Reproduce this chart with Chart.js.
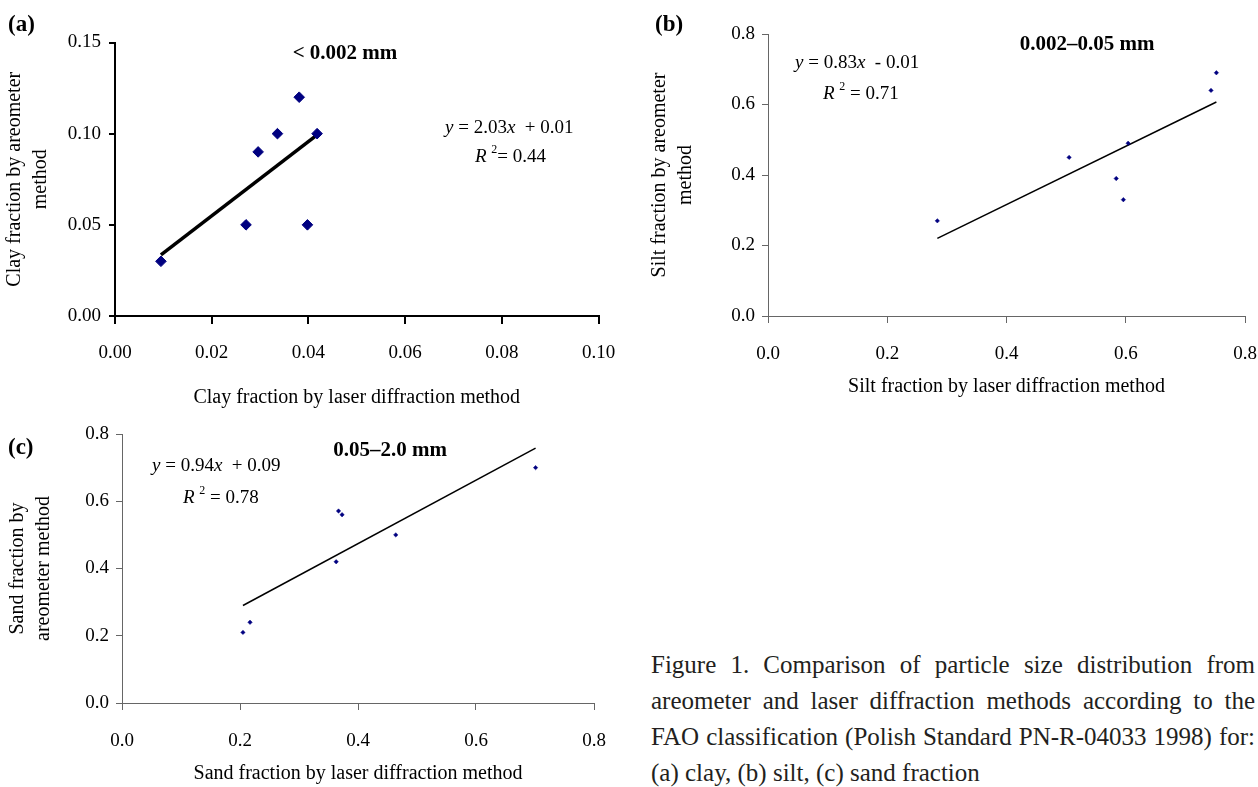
<!DOCTYPE html>
<html><head><meta charset="utf-8">
<script src="https://cdn.jsdelivr.net/npm/chart.js@4.4.0/dist/chart.umd.min.js"></script>
<style>
html,body{margin:0;padding:0;background:#fff;width:1258px;height:787px;overflow:hidden;position:relative;}
canvas{position:absolute;}
#ca{left:0;top:0;} #cb{left:640px;top:0;} #cc{left:0;top:420px;}
#cap{position:absolute;left:651px;top:647px;width:604px;font-family:"Liberation Serif","Times New Roman",serif;font-size:25px;line-height:36px;color:#231f20;}
#cap .j{text-align:justify;text-align-last:justify;white-space:nowrap;}
#cap .l{text-align:left;white-space:nowrap;}
</style></head><body>
<canvas id="ca" width="620" height="420"></canvas>
<canvas id="cb" width="618" height="400"></canvas>
<canvas id="cc" width="620" height="367"></canvas>
<div id="cap">
<div class="j">Figure 1. Comparison of particle size distribution from</div>
<div class="j">areometer and laser diffraction methods according to the</div>
<div class="j">FAO classification (Polish Standard PN-R-04033 1998) for:</div>
<div class="l">(a) clay, (b) silt, (c) sand fraction</div>
</div>
<script>
// ---- data (a) clay ----
const clayLaser = [0.0095, 0.0271, 0.0296, 0.0336, 0.0381, 0.0398, 0.0418];
const clayAreo  = [0.03, 0.05, 0.09, 0.10, 0.12, 0.05, 0.10];
const clayTrendX = [0.0095, 0.0418];
const clayTrendY = [0.0335, 0.0993];
const clayXTicks = [0, 0.02, 0.04, 0.06, 0.08, 0.10];
const clayYTicks = [0, 0.05, 0.10, 0.15];
// ---- data (b) silt ----
const siltLaser = [0.284, 0.505, 0.584, 0.596, 0.604, 0.743, 0.752];
const siltAreo  = [0.27, 0.45, 0.39, 0.33, 0.49, 0.64, 0.69];
const siltTrendX = [0.284, 0.752];
const siltTrendY = [0.22, 0.607];
const siltXTicks = [0, 0.2, 0.4, 0.6, 0.8];
const siltYTicks = [0, 0.2, 0.4, 0.6, 0.8];
// ---- data (c) sand ----
const sandLaser = [0.205, 0.217, 0.363, 0.367, 0.373, 0.464, 0.701];
const sandAreo  = [0.21, 0.24, 0.42, 0.571, 0.56, 0.50, 0.70];
const sandTrendX = [0.205, 0.701];
const sandTrendY = [0.29, 0.758];
const sandXTicks = [0, 0.2, 0.4, 0.6, 0.8];
const sandYTicks = [0, 0.2, 0.4, 0.6, 0.8];

const SERIF = '"Liberation Serif", "Times New Roman", serif';
const f = (size, style) => (style ? style + ' ' : '') + size + 'px ' + SERIF;

function toPts(xs, ys) { return xs.map((x, i) => ({x: x, y: ys[i]})); }

const textPlugin = {
  id: 'texts',
  afterDraw(chart, args, opts) {
    const ctx = chart.ctx;
    (opts.items || []).forEach(it => {
      ctx.save();
      ctx.fillStyle = '#000';
      ctx.textBaseline = 'middle';
      ctx.textAlign = 'left';
      let total = 0;
      it.segs.forEach(s => { ctx.font = s.font; total += ctx.measureText(s.t).width; });
      let x = it.align === 'center' ? it.x - total / 2 : it.x;
      it.segs.forEach(s => {
        ctx.font = s.font;
        ctx.fillText(s.t, x, it.y + (s.dy || 0));
        x += ctx.measureText(s.t).width;
      });
      ctx.restore();
    });
  }
};

function eq(x, y, slope, rest) {
  return {x: x, y: y, segs: [
    {t: 'y', font: f(19, 'italic')}, {t: ' = ' + slope, font: f(19)},
    {t: 'x', font: f(19, 'italic')}, {t: '  ' + rest, font: f(19)}]};
}
function r2(x, y, gap, val) {
  return {x: x, y: y, segs: [
    {t: 'R', font: f(19, 'italic')}, {t: ' ', font: f(19)},
    {t: '2', font: f(12), dy: -7}, {t: gap + '= ' + val, font: f(19)}]};
}

function panel(id, o) {
  return new Chart(document.getElementById(id), {
    type: 'scatter',
    data: {datasets: [
      {data: toPts(o.px, o.py), showLine: false, pointStyle: 'rectRot', pointRadius: o.r,
       pointHoverRadius: o.r, pointBackgroundColor: '#000080', pointBorderColor: '#000080',
       pointBorderWidth: o.pbw},
      {data: toPts(o.tx, o.ty), showLine: true, borderColor: '#000', borderWidth: o.lw,
       pointRadius: 0, pointHoverRadius: 0, fill: false, borderCapStyle: 'butt'}
    ]},
    options: {
      responsive: false, animation: false, devicePixelRatio: 1, events: [],
      layout: {padding: o.pad},
      plugins: {legend: {display: false}, tooltip: {enabled: false}, texts: {items: o.texts}},
      scales: {
        x: {
          type: 'linear', min: o.xt[0], max: o.xt[o.xt.length - 1],
          afterFit: s => { s.height = o.xh; s.paddingLeft = 0; s.paddingRight = 0; },
          afterBuildTicks: s => { s.ticks = o.xt.map(v => ({value: v})); },
          ticks: {autoSkip: false, maxRotation: 0, padding: o.xpad, color: '#000',
                  font: {family: SERIF, size: 19}, callback: v => Number(v).toFixed(o.dec)},
          grid: {drawOnChartArea: false, drawTicks: true, tickLength: o.xtl, color: o.ac, lineWidth: o.aw},
          border: {display: true, color: o.ac, width: o.aw},
          title: {display: true, text: o.xtitle, color: '#000',
                  font: {family: SERIF, size: 20, lineHeight: 1.3}, padding: {top: 0, bottom: o.xtp}}
        },
        y: {
          type: 'linear', min: o.yt[0], max: o.yt[o.yt.length - 1],
          afterFit: s => { s.width = o.yw; s.paddingTop = 0; s.paddingBottom = 0; },
          afterBuildTicks: s => { s.ticks = o.yt.map(v => ({value: v})); },
          ticks: {autoSkip: false, padding: o.ypad, color: '#000',
                  font: {family: SERIF, size: 19}, callback: v => Number(v).toFixed(o.dec)},
          grid: {drawOnChartArea: false, drawTicks: true, tickLength: 6, color: o.ac, lineWidth: o.aw},
          border: {display: true, color: o.ac, width: o.aw},
          title: {display: true, text: o.ytitle, color: '#000',
                  font: {family: SERIF, size: 20, lineHeight: 1.3}, padding: {top: o.ytp, bottom: 0}}
        }
      }
    },
    plugins: [textPlugin]
  });
}

panel('ca', {
  px: clayLaser, py: clayAreo, tx: clayTrendX, ty: clayTrendY, xt: clayXTicks, yt: clayYTicks,
  r: 5.3, pbw: 1, lw: 3.5, ac: '#000', aw: 2, dec: 2,
  pad: {left: 0, top: 42.5, right: 21.5, bottom: 0},
  xh: 104, yw: 115, xpad: 18, xtl: 8, ypad: 8, xtp: 9, ytp: 2,
  xtitle: 'Clay fraction by laser diffraction method',
  ytitle: ['Clay fraction by areometer', 'method'],
  texts: [
    {x: 8, y: 25, segs: [{t: '(a)', font: f(23, 'bold')}]},
    {x: 345, y: 54, align: 'center', segs: [{t: '< 0.002 mm', font: f(21, 'bold')}]},
    eq(445, 128, '2.03', '+ 0.01'),
    r2(475, 157, '', '0.44')
  ]
});

panel('cb', {
  px: siltLaser, py: siltAreo, tx: siltTrendX, ty: siltTrendY, xt: siltXTicks, yt: siltYTicks,
  r: 2.2, pbw: 0.5, lw: 1.5, ac: '#666', aw: 1, dec: 1,
  pad: {left: 0, top: 34, right: 13, bottom: 0},
  xh: 84, yw: 128, xpad: 20, xtl: 7, ypad: 7, xtp: 0, ytp: 7,
  xtitle: 'Silt fraction by laser diffraction method',
  ytitle: ['Silt fraction by areometer', 'method'],
  texts: [
    {x: 15, y: 25, segs: [{t: '(b)', font: f(23, 'bold')}]},
    {x: 447, y: 45, align: 'center', segs: [{t: '0.002\u20130.05 mm', font: f(21, 'bold')}]},
    eq(155, 63, '0.83', '- 0.01'),
    r2(183, 94, ' ', '0.71')
  ]
});

panel('cc', {
  px: sandLaser, py: sandAreo, tx: sandTrendX, ty: sandTrendY, xt: sandXTicks, yt: sandYTicks,
  r: 2.2, pbw: 0.5, lw: 1.5, ac: '#666', aw: 1, dec: 1,
  pad: {left: 0, top: 14, right: 26, bottom: 0},
  xh: 84, yw: 122, xpad: 20, xtl: 7, ypad: 7, xtp: 0, ytp: 5,
  xtitle: 'Sand fraction by laser diffraction method',
  ytitle: ['Sand fraction by', 'areometer method'],
  texts: [
    {x: 8, y: 28, segs: [{t: '(c)', font: f(23, 'bold')}]},
    {x: 390, y: 31, align: 'center', segs: [{t: '0.05\u20132.0 mm', font: f(21, 'bold')}]},
    eq(152, 46, '0.94', '+ 0.09'),
    r2(183, 78, ' ', '0.78')
  ]
});
</script>
</body></html>
